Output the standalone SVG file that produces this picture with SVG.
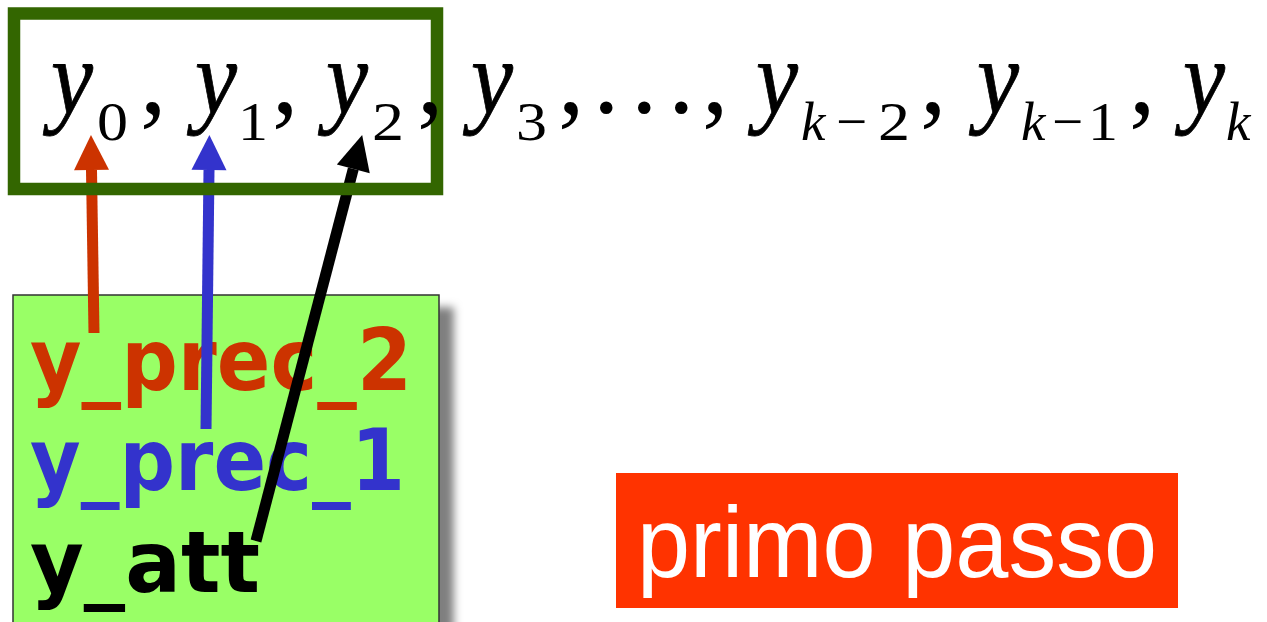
<svg xmlns="http://www.w3.org/2000/svg" width="1267" height="622" viewBox="0 0 1267 622">
<style>
.m{font-family:"Liberation Serif","Times New Roman",serif;fill:#000}
.mi{font-style:italic}
.big{font-size:106px}
.yy{stroke:#000;stroke-width:0.8}
.sub{font-size:55px}
.var{font-family:"DejaVu Sans",sans-serif;font-weight:bold;font-size:86px}
.lbl{font-family:"Liberation Sans",Arial,sans-serif;font-size:101px;fill:#fff}
</style>
<defs>
<filter id="sh" x="-10%" y="-10%" width="130%" height="130%">
<feDropShadow dx="14" dy="13" stdDeviation="4" flood-color="#000" flood-opacity="0.5"/>
</filter>
<marker id="hr" markerUnits="userSpaceOnUse" markerWidth="36" markerHeight="36" refX="0" refY="18" orient="auto" viewBox="0 0 36 36" overflow="visible">
<path d="M0,0.5 L35,18 L0,35.5 z" fill="#CC3300"/>
</marker>
<marker id="hb" markerUnits="userSpaceOnUse" markerWidth="36" markerHeight="36" refX="0" refY="18" orient="auto" viewBox="0 0 36 36" overflow="visible">
<path d="M0,0.5 L35,18 L0,35.5 z" fill="#3333CC"/>
</marker>
<marker id="hk" markerUnits="userSpaceOnUse" markerWidth="36" markerHeight="36" refX="0" refY="18" orient="auto" viewBox="0 0 36 36" overflow="visible">
<path d="M0,1 L35,18 L0,35 z" fill="#000"/>
</marker>
</defs>
<rect width="1267" height="622" fill="#fff"/>

<g id="vars">
<rect x="13" y="295" width="426" height="340" fill="#99FF66" stroke="#333" stroke-width="1.5" filter="url(#sh)"/>
<text class="var" x="30" y="390" fill="#CC3300" textLength="382" lengthAdjust="spacingAndGlyphs">y_prec_2</text>
<text class="var" x="30" y="490" fill="#3333CC" textLength="375" lengthAdjust="spacingAndGlyphs">y_prec_1</text>
<text class="var" x="30" y="592" fill="#000" textLength="230" lengthAdjust="spacingAndGlyphs">y_att</text>
</g>

<g id="connectors" fill="none" stroke-width="11" stroke-linecap="butt">
<line x1="94" y1="333" x2="91.5" y2="170" stroke="#CC3300" marker-end="url(#hr)"/>
<line x1="206" y1="429" x2="209" y2="170" stroke="#3333CC" marker-end="url(#hb)"/>
<line x1="256" y1="541" x2="353.3" y2="168.9" stroke="#000" marker-end="url(#hk)"/>
</g>

<g id="sequence">
<rect x="14" y="13.5" width="423" height="175.5" fill="none" stroke="#336600" stroke-width="12.5"/>
<text class="m mi big yy" x="51" y="113" textLength="42" lengthAdjust="spacingAndGlyphs">y</text>
<text class="m sub" x="97" y="140" textLength="31" lengthAdjust="spacingAndGlyphs">0</text>
<text class="m big" x="140" y="113">,</text>
<text class="m mi big yy" x="195" y="113" textLength="42" lengthAdjust="spacingAndGlyphs">y</text>
<text class="m sub" x="238" y="140" textLength="30" lengthAdjust="spacingAndGlyphs">1</text>
<text class="m big" x="272" y="113">,</text>
<text class="m mi big yy" x="326" y="113" textLength="42" lengthAdjust="spacingAndGlyphs">y</text>
<text class="m sub" x="372" y="140" textLength="32" lengthAdjust="spacingAndGlyphs">2</text>
<text class="m big" x="417" y="113">,</text>
<text class="m mi big yy" x="471" y="113" textLength="42" lengthAdjust="spacingAndGlyphs">y</text>
<text class="m sub" x="516" y="140" textLength="31" lengthAdjust="spacingAndGlyphs">3</text>
<text class="m big" x="558" y="113">,</text>
<text class="m big" x="593" y="113">.</text>
<text class="m big" x="631" y="113">.</text>
<text class="m big" x="668" y="113">.</text>
<text class="m big" x="702" y="113">,</text>
<text class="m mi big yy" x="756" y="113" textLength="42" lengthAdjust="spacingAndGlyphs">y</text>
<text class="m mi sub" x="801" y="140">k</text>
<text class="m sub" x="836" y="140">−</text>
<text class="m sub" x="878" y="140" textLength="32" lengthAdjust="spacingAndGlyphs">2</text>
<text class="m big" x="920" y="113">,</text>
<text class="m mi big yy" x="977" y="113" textLength="42" lengthAdjust="spacingAndGlyphs">y</text>
<text class="m mi sub" x="1021" y="140">k</text>
<text class="m sub" x="1052" y="140">−</text>
<text class="m sub" x="1088" y="140" textLength="30" lengthAdjust="spacingAndGlyphs">1</text>
<text class="m big" x="1129" y="113">,</text>
<text class="m mi big yy" x="1183" y="113" textLength="42" lengthAdjust="spacingAndGlyphs">y</text>
<text class="m mi sub" x="1226" y="140">k</text>
</g>

<g id="step">
<rect x="616" y="473" width="562" height="135" fill="#FF3300"/>
<text class="lbl" x="637" y="577" textLength="520" lengthAdjust="spacingAndGlyphs">primo passo</text>
</g>
</svg>
